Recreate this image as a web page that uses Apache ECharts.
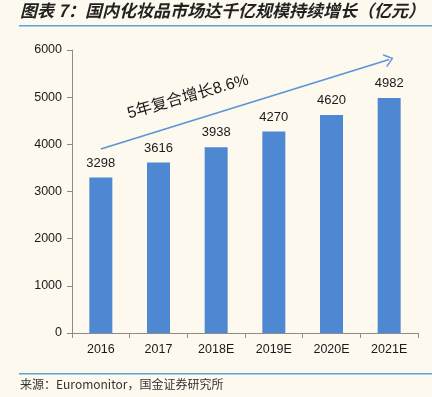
<!DOCTYPE html>
<html>
<head>
<meta charset="utf-8">
<script src="https://cdn.jsdelivr.net/npm/echarts@6/dist/echarts.min.js"></script>
<style>
  html, body { margin: 0; padding: 0; background: #fdf9ef; }
  #main { width: 432px; height: 397px; }
</style>
</head>
<body>
<div id="main"></div>
<script>
// 数据
var years = ['2016', '2017', '2018E', '2019E', '2020E', '2021E'];
var marketSize = [3298, 3616, 3938, 4270, 4620, 4982];
var yTicks = [0, 1000, 2000, 3000, 4000, 5000, 6000];
var arrowFrom = ['2016', 3900];
var arrowTo = ['2021E', 5800];
var cagrText = '5年复合增长8.6%';

var chart = echarts.init(document.getElementById('main'));

var option = {
    backgroundColor: '#fdf9ef',
    animation: false,
    textStyle: { fontFamily: '"Liberation Sans", Arial, sans-serif' },
    grid: { left: 72, right: 14, top: 50, bottom: 64 },
    xAxis: {
        type: 'category',
        data: years,
        axisLine: { lineStyle: { color: '#8c8c8c', width: 1 } },
        axisTick: { show: true, alignWithLabel: false, length: 5, lineStyle: { color: '#8c8c8c' } },
        axisLabel: { color: '#1a1a1a', fontSize: 12.5, margin: 10 }
    },
    yAxis: {
        type: 'value',
        min: yTicks[0],
        max: yTicks[yTicks.length - 1],
        interval: 1000,
        splitLine: { show: false },
        axisLine: { show: true, lineStyle: { color: '#8c8c8c', width: 1 } },
        axisTick: { show: true, length: 5, lineStyle: { color: '#8c8c8c' } },
        axisLabel: {
            color: '#1a1a1a', fontSize: 12.5, margin: 10,
            formatter: function(v) { return String(v); }
        }
    },
    series: [{
        type: 'bar',
        data: marketSize,
        barWidth: 23,
        itemStyle: { color: '#4f88d2' },
        label: { show: true, position: 'top', distance: 8, color: '#1a1a1a', fontSize: 13 },
        markLine: {
            silent: true,
            symbol: ['none', 'path://M0,10 L5,0 L10,10 L8.8,10 L5,2.4 L1.2,10 Z'],
            symbolSize: [14, 9],
            lineStyle: { color: '#5a93d8', width: 1.5, type: 'solid' },
            label: { show: false },
            data: [[
                { coord: arrowFrom },
                { coord: arrowTo }
            ]]
        }
    }],
    graphic: [
        {
            type: 'text',
            left: 20, top: 2,
            style: {
                text: '图表 7：国内化妆品市场达千亿规模持续增长（亿元）',
                fontSize: 17, fontWeight: 'bold', fontStyle: 'italic',
                fontFamily: '"Noto Sans CJK SC", sans-serif',
                fill: '#222'
            }
        },
        {
            type: 'rect',
            shape: { x: 19, y: 25, width: 413, height: 1.5 },
            style: { fill: '#56a6dc' }
        },
        {
            type: 'rect',
            shape: { x: 19, y: 373, width: 413, height: 1.5 },
            style: { fill: '#56a6dc' }
        },
        {
            type: 'text',
            left: 20, top: 378,
            style: {
                text: '来源：Euromonitor，国金证券研究所',
                fontSize: 12,
                fontFamily: '"Noto Sans CJK SC", sans-serif',
                fill: '#333'
            }
        },
        {
            type: 'text',
            x: 188, y: 97,
            rotation: 16 * Math.PI / 180,
            style: {
                text: cagrText,
                fontSize: 16,
                fontFamily: '"Liberation Sans", "Noto Sans CJK SC", sans-serif',
                fill: '#1a1a1a',
                align: 'center',
                verticalAlign: 'middle'
            }
        }
    ]
};

chart.setOption(option);
</script>
</body>
</html>
